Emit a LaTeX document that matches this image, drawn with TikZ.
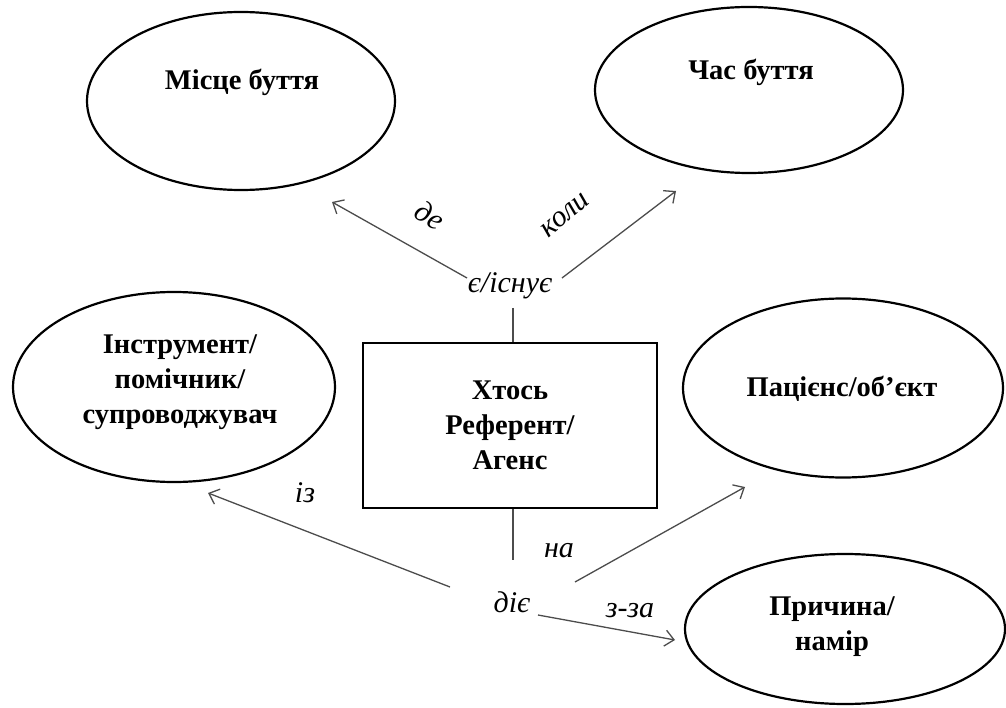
\documentclass[tikz,border=0pt]{standalone}
\usepackage{fontspec}
\setmainfont{Liberation Serif}
\usetikzlibrary{shapes.geometric,arrows.meta}
\begin{document}
\begin{tikzpicture}[x=1pt,y=-1pt,
  oval/.style={ellipse, draw=black, line width=2.2pt, inner sep=0pt},
  boxst/.style={rectangle, draw=black, line width=2.2pt, inner sep=0pt},
  title/.style={font=\fontsize{28.5}{35}\selectfont\bfseries, align=center, inner sep=0pt},
  rel/.style={font=\fontsize{30}{32}\selectfont\itshape, inner sep=0pt},
  conn/.style={draw=black!70, line width=1.3pt},
  arr/.style={conn, -{Straight Barb[length=9pt,width=16pt,line width=1.3pt]}}]
\useasboundingbox (0,0) rectangle (1006,708);

% ellipses
\node[oval, minimum width=308pt, minimum height=178pt] (place) at (241,101) {};
\node[title] (placeT) at (242,82) {Місце буття};
\node[oval, minimum width=308pt, minimum height=166pt] (time) at (749,90) {};
\node[title] (timeT) at (751,72) {Час буття};
\node[oval, minimum width=322pt, minimum height=190pt] (instr) at (174,387) {};
\node[title] (instrT) at (180,382) {Інструмент/\\помічник/\\супроводжувач};
\node[oval, minimum width=320pt, minimum height=179pt] (pat) at (843,388) {};
\node[title] (patT) at (842,389) {Пацієнс/об’єкт};
\node[oval, minimum width=320pt, minimum height=150pt] (cause) at (845,629) {};
\node[title] (causeT) at (832,627) {Причина/\\намір};

% central box
\node[boxst, minimum width=294pt, minimum height=165pt, title] (box) at (510,425.5) {Хтось\\Референт/\\Агенс};

% relation labels
\node[rel, anchor=base] (exists) at (510,293) {є/існує};
\node[rel, rotate=-32] (de) at (430,215) {де};
\node[rel, rotate=40] (koly) at (565,215) {коли};
\node[rel, anchor=base] (acts) at (512,612) {діє};
\node[rel, anchor=base] (iz) at (305,502) {із};
\node[rel, anchor=base] (na) at (559,557) {на};
\node[rel, anchor=base] (zza) at (630,617) {з-за};

% connector ends
\coordinate (eL) at (467,278);
\coordinate (tP) at (332,202);
\coordinate (eR) at (562,278);
\coordinate (tT) at (676,191);
\coordinate (eTop) at (513,308);
\coordinate (eBot) at (513,560);
\coordinate (dL) at (450,587);
\coordinate (tI) at (208,493);
\coordinate (dR) at (575,582);
\coordinate (tPa) at (745,487);
\coordinate (dD) at (538,615);
\coordinate (tC) at (675,640);

% connectors
\draw[arr] (eL) -- (tP);
\draw[arr] (eR) -- (tT);
\draw[conn] (eTop) -- (eTop |- box.north);
\draw[conn] (eBot |- box.south) -- (eBot);
\draw[arr] (dL) -- (tI);
\draw[arr] (dR) -- (tPa);
\draw[arr] (dD) -- (tC);
\end{tikzpicture}
\end{document}
